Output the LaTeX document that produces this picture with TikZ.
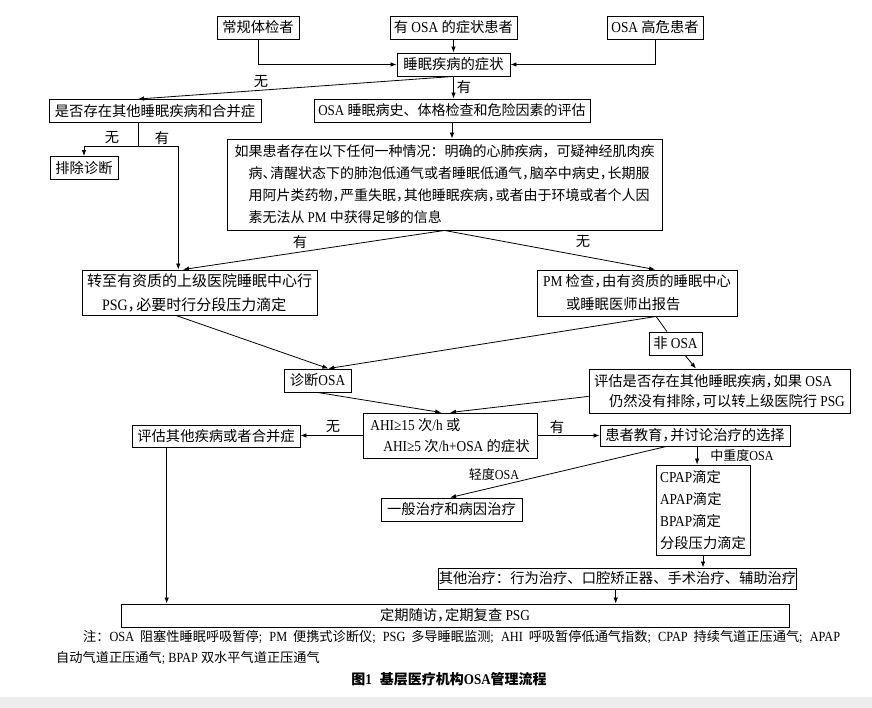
\documentclass[tikz,border=0pt]{standalone}
\usepackage{fontspec}
\setmainfont{Liberation Serif}[Scale=1.06,FakeStretch=0.88]
\newfontfamily\cjkfont{Noto Sans CJK SC}
\usetikzlibrary{arrows.meta,calc}
\makeatletter
\newXeTeXintercharclass\CJKcls
\count@="2E80
\loop \XeTeXcharclass\count@=\CJKcls \advance\count@ 1 \ifnum\count@<"A000 \repeat
\count@="FF00
\loop \XeTeXcharclass\count@=\CJKcls \advance\count@ 1 \ifnum\count@<"FFF0 \repeat
\makeatother
\newcommand\latinfont{\rmfamily}
\XeTeXinterchartoks 0 \CJKcls = {\cjkfont}
\XeTeXinterchartoks 4095 \CJKcls = {\cjkfont}
\XeTeXinterchartoks \CJKcls 0 = {\latinfont}
\XeTeXinterchartoks 4095 0 = {\latinfont}
\newcommand\hc[1]{\makebox[0.55em][l]{#1}}
\newcommand\mainfs{\fontsize{14.3}{22}\selectfont}
\begin{document}
\XeTeXinterchartokenstate=1
\begin{tikzpicture}[x=1pt,y=-1pt,
  box/.style={draw=black, line width=0.9pt, inner sep=0pt, minimum height=23pt, font=\mainfs, align=center},
  lbl/.style={inner sep=0pt, font=\mainfs},
  arr/.style={line width=0.8pt, -{Latex[length=6pt,width=4.5pt]}},
  ln/.style={line width=0.8pt}]
\path[use as bounding box, fill=white] (0,0) rectangle (872,708);
\fill[black!7] (0,697) rectangle (872,708);

% boxes
\node[box, minimum width=82pt] (n1) at (258,27.5) {常规体检者};
\node[box, minimum width=127pt] (n2) at (453.5,27.5) {有 OSA 的症状患者};
\node[box, minimum width=96pt] (n3) at (655,27.5) {OSA 高危患者};
\node[box, minimum width=113pt] (n4) at (453.5,64.5) {睡眠疾病的症状};
\node[box, minimum width=212pt] (n5) at (155,111) {是否存在其他睡眠疾病和合并症};
\node[box, minimum width=276pt, font=\fontsize{14}{22}\selectfont] (n6) at (452,110.5) {OSA 睡眠病史、体格检查和危险因素的评估};
\node[box, minimum width=68pt] (n7) at (84,168) {排除诊断};
\node[box, minimum width=435pt, minimum height=91pt, align=left, font=\fontsize{14}{22}\selectfont] (n8) at (444.5,184.5)
  {如果患者存在以下任何一种情况：明确的心肺疾病，可疑神经肌肉疾\\
   \hspace*{14pt}病\hc{、}清醒状态下的肺泡低通气或者睡眠低通气\hc{，}脑卒中病史\hc{，}长期服\\
   \hspace*{14pt}用阿片类药物\hc{，}严重失眠\hc{，}其他睡眠疾病\hc{，}或者由于环境或者个人因\\
   \hspace*{14pt}素无法从 PM 中获得足够的信息};
\node[box, minimum width=235pt, minimum height=45pt, align=left, font=\fontsize{15}{24}\selectfont] (n9) at (199.5,292.5)
  {转至有资质的上级医院睡眠中心行\\ \hspace*{15pt}PSG\hc{，}必要时行分段压力滴定};
\node[box, minimum width=200pt, minimum height=46pt, align=left, font=\fontsize{14.3}{23}\selectfont] (n10) at (637,293)
  {PM 检查\hc{，}由有资质的睡眠中心\\ \hspace*{23pt}或睡眠医师出报告};
\node[box, minimum width=67pt] (n11) at (317.5,380.5) {诊断OSA};
\node[box, minimum width=53pt] (n12) at (675.5,343.5) {非 OSA};
\node[box, minimum width=261pt, minimum height=44pt, align=left, font=\fontsize{14.3}{20}\selectfont] (n13) at (719.5,391)
  {评估是否存在其他睡眠疾病\hc{，}如果 OSA\\ \hspace*{15pt}仍然没有排除\hc{，}可以转上级医院行 PSG};
\node[box, minimum width=174pt, minimum height=45pt, align=left, font=\fontsize{14.3}{21}\selectfont] (n14) at (450,435.5)
  {AHI≥15 次/h 或\\ \hspace*{13pt}AHI≥5 次/h+OSA 的症状};
\node[box, minimum width=168pt, minimum height=22pt] (n15) at (216,436) {评估其他疾病或者合并症};
\node[box, minimum width=190pt, minimum height=21pt] (n16) at (695,435.5) {患者教育\hc{，}并讨论治疗的选择};
\node[box, minimum width=141pt] (n17) at (451.5,509.5) {一般治疗和病因治疗};
\node[box, minimum width=94pt, minimum height=90pt, align=left, font=\fontsize{14.3}{22.3}\selectfont] (n18) at (703,510)
  {CPAP滴定\\ APAP滴定\\ BPAP滴定\\ 分段压力滴定};
\node[box, minimum width=341pt, minimum height=21pt] (n19) at (617.5,578.5) {其他治疗：行为治疗、口腔矫正器、手术治疗、辅助治疗};
\node[box, minimum width=668pt] (n20) at (455,615.5) {定期随访\hc{，}定期复查 PSG};

% connection points
\coordinate (p5t) at ($(n5.north west)!0.42!(n5.north east)$);
\coordinate (j1) at (138,146);
\coordinate (p9t) at ($(n9.north west)!0.41!(n9.north east)$);
\coordinate (p9t2) at ($(n9.north west)!0.43!(n9.north east)$);
\coordinate (p10t) at ($(n10.north west)!0.59!(n10.north east)$);
\coordinate (p9b) at ($(n9.south west)!0.4!(n9.south east)$);
\coordinate (p10b) at ($(n10.south west)!0.595!(n10.south east)$);
\coordinate (p11t) at ($(n11.north west)!0.66!(n11.north east)$);
\coordinate (p13t) at ($(n13.north west)!0.41!(n13.north east)$);
\coordinate (p14t1) at ($(n14.north west)!0.45!(n14.north east)$);
\coordinate (p14t2) at ($(n14.north west)!0.5!(n14.north east)$);
\coordinate (p13l) at ($(n13.north west)!0.62!(n13.south west)$);
\coordinate (p16b1) at ($(n16.south west)!0.511!(n16.south east)$);
\coordinate (p16b2) at ($(n16.south west)!0.35!(n16.south east)$);
\coordinate (p17t) at ($(n17.north west)!0.49!(n17.north east)$);
\coordinate (p19b) at ($(n19.south west)!0.495!(n19.south east)$);
\coordinate (p15b) at ($(n15.south west)!0.208!(n15.south east)$);

% connectors
\draw[arr] (n1.south) |- (n4.west);
\draw[arr] (n3.south) |- (n4.east);
\draw[arr] (n2) -- (n4);
\draw[arr] (n4.south) -- (n4.south |- n6.north);
\draw[arr] (n4.south) -- (p5t);
\draw[ln] (n5.south -| j1) -- (j1);
\draw[arr] (j1) -| (n7.north);
\draw[arr] (j1) -| (p9t);
\draw[arr] (n6.south) -- (n6.south |- n8.north);
\draw[arr] (n8.south) -- (p9t2);
\draw[arr] (n8.south) -- (p10t);
\draw[arr] (p9b) -- (p11t);
\draw[arr] (p10b) -- (p11t);
\draw[ln] (p10b) -- (n12);
\draw[arr] (n12) -- (p13t);
\draw[arr] (n11.south) -- (p14t1);
\draw[arr] (p13l) -- (p14t2);
\draw[arr] (n14.west) -- (n14.west -| n15.east);
\draw[arr] (n14.east) -- (n14.east -| n16.west);
\draw[arr] (p16b1) -- (p16b1 |- n18.north);
\draw[arr] (p16b2) -- (p17t);
\draw[arr] (n18.south) -- (n18.south |- n19.north);
\draw[arr] (p19b) -- (p19b |- n20.north);
\draw[arr] (p15b) -- (p15b |- n20.north);

% labels
\node[lbl] (l1) at (261,82) {无};
\node[lbl] (l2) at (464,87) {有};
\node[lbl] (l3) at (112,138) {无};
\node[lbl] (l4) at (162,138) {有};
\node[lbl] (l5) at (300,242) {有};
\node[lbl] (l6) at (583,242) {无};
\node[lbl] (l7) at (333,427) {无};
\node[lbl] (l8) at (557,427) {有};
\node[lbl, font=\fontsize{13}{15}\selectfont] (l9) at (742,456) {中重度OSA};
\node[lbl, font=\fontsize{13}{15}\selectfont] (l10) at (494,475) {轻度OSA};

% notes
\node[anchor=west, inner sep=0pt, font=\fontsize{13.2}{16}\selectfont] (note1) at (83,637)
  {\makebox[757pt][s]{注：OSA 阻塞性睡眠呼吸暂停; PM 便携式诊断仪; PSG 多导睡眠监测; AHI 呼吸暂停低通气指数; CPAP 持续气道正压通气; APAP}};
\node[anchor=west, inner sep=0pt, font=\fontsize{13.2}{16}\selectfont] (note2) at (56,658)
  {自动气道正压通气; BPAP 双水平气道正压通气};
\node[inner sep=0pt, font=\fontsize{14}{16}\selectfont\bfseries] (cap) at (449,679)
  {图1\hspace{8pt}基层医疗机构OSA管理流程};
\end{tikzpicture}
\end{document}
